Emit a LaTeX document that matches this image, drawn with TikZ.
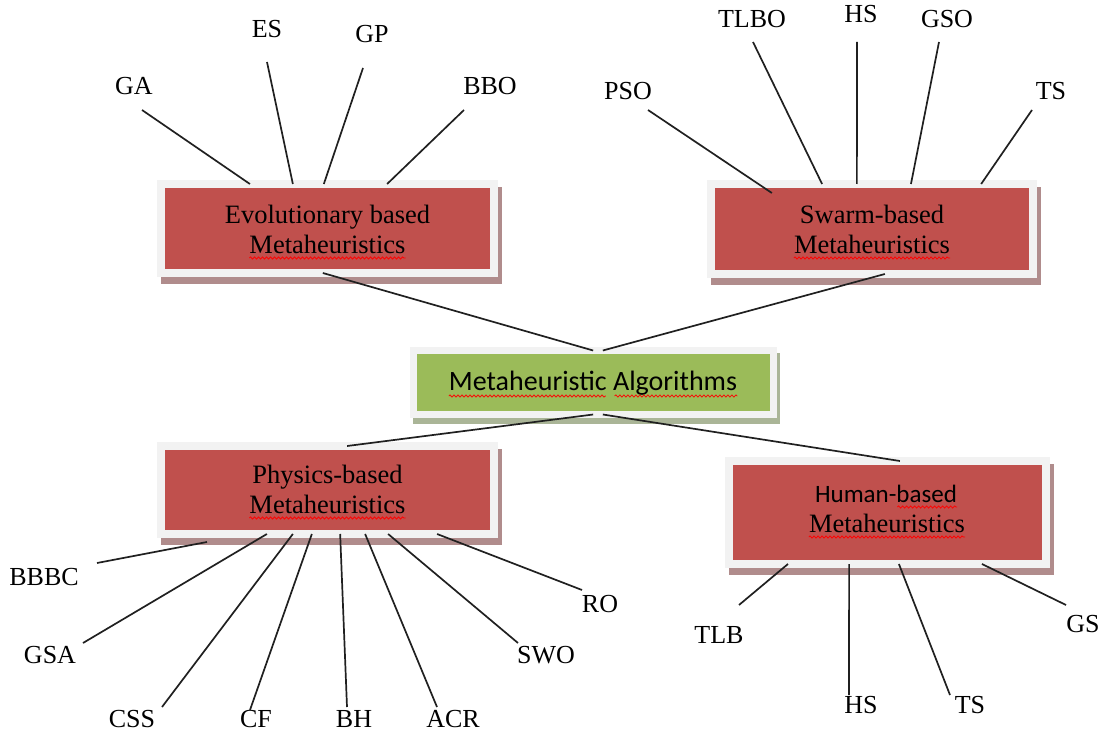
\documentclass[tikz,border=0pt]{standalone}
\usepackage{fontspec}
\setmainfont{Liberation Serif}
\newfontfamily\calibrifont{Carlito}
\usetikzlibrary{calc,backgrounds,decorations.pathmorphing}

\definecolor{boxred}{HTML}{C0504D}
\definecolor{boxgreen}{HTML}{9BBB59}
\definecolor{framegrey}{HTML}{F2F2F2}
\definecolor{shadowred}{HTML}{B08C8C}
\definecolor{shadowgreen}{HTML}{AAB597}
\definecolor{linkgrey}{HTML}{202020}

\tikzset{
  catbox/.style={rectangle, fill=boxred, draw=framegrey, line width=8pt,
    outer sep=0pt, inner sep=0pt},
  rootbox/.style={rectangle, fill=boxgreen, draw=framegrey, line width=7pt,
    outer sep=0pt, inner sep=0pt},
  boxtext/.style={anchor=base, inner sep=0pt, font=\fontsize{26.5}{30}\selectfont},
  roottext/.style={anchor=base, inner sep=0pt, font=\calibrifont\fontsize{28}{32}\selectfont},
  algo/.style={anchor=base, inner sep=0pt, font=\fontsize{26}{30}\selectfont},
  link/.style={draw=linkgrey, line width=1.7pt},
  spell/.style={draw=red, line width=0.75pt, decorate,
    decoration={snake, amplitude=1.1pt, segment length=4pt}},
}

\begin{document}
\begin{tikzpicture}[x=1pt, y=-1pt]
\useasboundingbox (0,0) rectangle (1104,733);

% category boxes and the root box
\node[rootbox, minimum width=360pt, minimum height=64pt] (root) at (593.5,382.5) {};
\node[catbox, minimum width=333pt, minimum height=89pt] (evo) at (327.5,228.5) {};
\node[catbox, minimum width=322pt, minimum height=90pt] (swarm) at (872,229) {};
\node[catbox, minimum width=333pt, minimum height=88pt] (phys) at (327.5,490) {};
\node[catbox, minimum width=317pt, minimum height=103pt] (human) at (887.5,512.5) {};

% drop shadows behind the boxes
\begin{scope}[on background layer]
  \foreach \b in {evo,swarm,phys,human}
    \fill[shadowred] ($(\b.south west)+(0pt,-11pt)$) rectangle ($(\b.north east)+(8pt,-3pt)$);
  \fill[shadowgreen] ($(root.south west)+(-0.5pt,-9.5pt)$) rectangle ($(root.north east)+(6.5pt,-2.5pt)$);
\end{scope}

% box captions
\node[roottext] (rootT) at (593,390) {Metaheuristic Algorithms};
\node[boxtext] (evoA) at (327.5,223) {Evolutionary based};
\node[boxtext] (evoB) at (327.5,253) {Metaheuristics};
\node[boxtext] (swarmA) at (872,223) {Swarm-based};
\node[boxtext] (swarmB) at (872,253) {Metaheuristics};
\node[boxtext] (physA) at (327.5,483) {Physics-based};
\node[boxtext] (physB) at (327.5,513) {Metaheuristics};
\node[boxtext, font=\calibrifont\fontsize{25}{30}\selectfont] (humanA) at (886,502) {Human-based};
\node[boxtext] (humanB) at (887,532) {Metaheuristics};

% spell-check underlines
\draw[spell] ($(rootT.base west)+(0,-6pt)$) -- ($(rootT.base west)!0.545!(rootT.base east)+(0,-6pt)$);
\draw[spell] ($(rootT.base west)!0.575!(rootT.base east)+(0,-6pt)$) -- ($(rootT.base east)+(0,-6pt)$);
\foreach \t in {evoB,swarmB,physB,humanB}
  \draw[spell] ($(\t.base west)+(0,-5pt)$) -- ($(\t.base east)+(0,-5pt)$);
\draw[spell] ($(humanA.base west)!0.58!(humanA.base east)+(0,-5pt)$) -- ($(humanA.base east)+(0,-5pt)$);

% links between root and categories
\draw[link] ($(evo.south west)!0.486!(evo.south east)$) -- ($(root.north west)!0.499!(root.north east)$);
\draw[link] ($(swarm.south west)!0.540!(swarm.south east)$) -- ($(root.north west)!0.526!(root.north east)$);
\draw[link] ($(root.south west)!0.499!(root.south east)$) -- ($(phys.north west)!0.559!(phys.north east)$);
\draw[link] ($(root.south west)!0.526!(root.south east)$) -- ($(human.north west)!0.539!(human.north east)$);

% evolutionary algorithms
\node[algo] (GA)  at (134,95) {GA};
\node[algo] (ES)  at (267,38) {ES};
\node[algo] (GP)  at (372,43) {GP};
\node[algo] (BBO) at (490,95) {BBO};
\coordinate (GA-end)  at (142,110);
\coordinate (ES-end)  at (267,62);
\coordinate (GP-end)  at (363,68);
\coordinate (BBO-end) at (464,110);
\draw[link] (GA-end)  -- ($(evo.north west)!0.267!(evo.north east)$);
\draw[link] (ES-end)  -- ($(evo.north west)!0.396!(evo.north east)$);
\draw[link] (GP-end)  -- ($(evo.north west)!0.489!(evo.north east)$);
\draw[link] (BBO-end) -- ($(evo.north west)!0.679!(evo.north east)$);

% swarm algorithms
\node[algo] (PSO)  at (628,100) {PSO};
\node[algo] (TLBO) at (752,28)  {TLBO};
\node[algo] (sHS)  at (861,23)  {HS};
\node[algo] (GSO)  at (947,28)  {GSO};
\node[algo] (sTS)  at (1051,100) {TS};
\coordinate (PSO-end)  at (648,110);
\coordinate (TLBO-end) at (753,42);
\coordinate (sHS-end)  at (857,42);
\coordinate (GSO-end)  at (939,42);
\coordinate (sTS-end)  at (1032,110);
\draw[link] (PSO-end)  -- ($(swarm.north west)!0.189!(swarm.north east)+(0pt,-9pt)$);
\draw[link] (TLBO-end) -- ($(swarm.north west)!0.345!(swarm.north east)$);
\draw[link] (sHS-end)  -- ($(swarm.north west)!0.453!(swarm.north east)$);
\draw[link] (GSO-end)  -- ($(swarm.north west)!0.621!(swarm.north east)$);
\draw[link] (sTS-end)  -- ($(swarm.north west)!0.839!(swarm.north east)$);

% physics algorithms
\node[algo] (BBBC) at (44,585)  {BBBC};
\node[algo] (GSA)  at (50,663)  {GSA};
\node[algo] (CSS)  at (132,727) {CSS};
\node[algo] (CF)   at (256,727) {CF};
\node[algo] (BH)   at (354,727) {BH};
\node[algo] (ACR)  at (453,727) {ACR};
\node[algo] (SWO)  at (546,663) {SWO};
\node[algo] (RO)   at (600,612) {RO};
\coordinate (BBBC-end) at (97,563);
\coordinate (GSA-end)  at (83,643);
\coordinate (CSS-end)  at (162,707);
\coordinate (CF-end)   at (250,710);
\coordinate (BH-end)   at (347,707);
\coordinate (ACR-end)  at (437,707);
\coordinate (SWO-end)  at (518,643);
\coordinate (RO-end)   at (582,590);
\draw[link] (BBBC-end) -- ($(phys.south west)!0.138!(phys.south east)+(0pt,-8pt)$);
\draw[link] (GSA-end)  -- ($(phys.south west)!0.318!(phys.south east)$);
\draw[link] (CSS-end)  -- ($(phys.south west)!0.396!(phys.south east)$);
\draw[link] (CF-end)   -- ($(phys.south west)!0.453!(phys.south east)$);
\draw[link] (BH-end)   -- ($(phys.south west)!0.538!(phys.south east)$);
\draw[link] (ACR-end)  -- ($(phys.south west)!0.613!(phys.south east)$);
\draw[link] (SWO-end)  -- ($(phys.south west)!0.682!(phys.south east)$);
\draw[link] (RO-end)   -- ($(phys.south west)!0.829!(phys.south east)$);

% human-based algorithms
\node[algo] (TLB) at (719,643)  {TLB};
\node[algo] (hHS) at (861,713)  {HS};
\node[algo] (hTS) at (970,713)  {TS};
\node[algo] (GS)  at (1083,632) {GS};
\coordinate (TLB-end) at (739,605);
\coordinate (hHS-end) at (849,695);
\coordinate (hTS-end) at (950,695);
\coordinate (GS-end)  at (1066,605);
\draw[link] (TLB-end) -- ($(human.south west)!0.186!(human.south east)$);
\draw[link] (hHS-end) -- ($(human.south west)!0.379!(human.south east)$);
\draw[link] (hTS-end) -- ($(human.south west)!0.536!(human.south east)$);
\draw[link] (GS-end)  -- ($(human.south west)!0.798!(human.south east)$);
\end{tikzpicture}
\end{document}
